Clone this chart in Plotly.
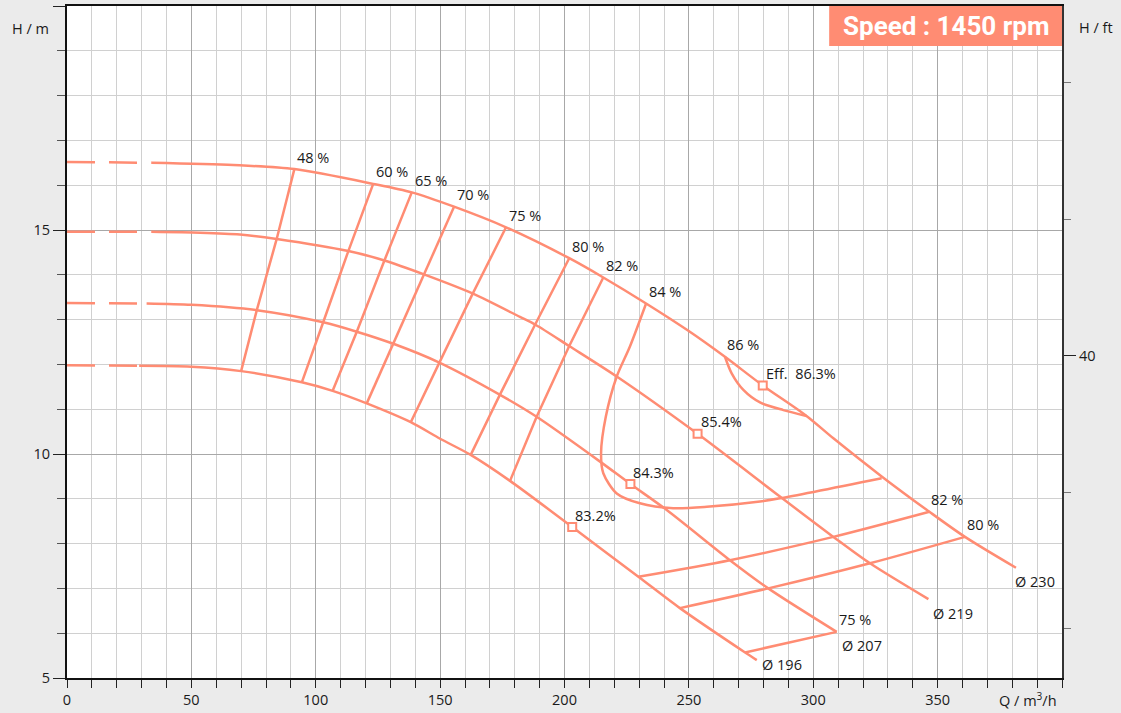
import plotly.graph_objects as go

# ---------------- data ----------------
# Impeller diameter curves: flow Q (m3/h) and head H (m)
Q230 = [0, 34, 66.9, 91.4, 123.1, 138.6, 155.6, 176.5, 201.9, 215.6, 232.8, 249.8, 264.5, 279.7, 297.3, 308.1, 327.5, 346.7, 361, 381.5]
H230 = [16.52, 16.50, 16.45, 16.36, 16.03, 15.84, 15.52, 15.06, 14.37, 13.94, 13.36, 12.75, 12.17, 11.53, 10.85, 10.35, 9.50, 8.71, 8.15, 7.46]
Q219 = [0, 34, 53.5, 69.5, 84.3, 113.1, 127.6, 143.5, 163.2, 182.1, 188.5, 201.9, 221, 253.5, 286.6, 308.1, 322.8, 346.3]
H219 = [14.96, 14.96, 14.94, 14.90, 14.80, 14.53, 14.32, 14.01, 13.58, 13.06, 12.88, 12.41, 11.73, 10.45, 9.05, 8.15, 7.56, 6.76]
Q207 = [0, 32, 50.1, 76.3, 103.0, 116.5, 131.2, 149.7, 174.1, 188.8, 214.3, 226.5, 241.1, 266.5, 281.9, 309.4]
H207 = [13.37, 13.36, 13.33, 13.21, 12.94, 12.73, 12.46, 12.04, 11.32, 10.83, 9.83, 9.33, 8.75, 7.63, 7.00, 6.03]
Q196 = [0, 29, 50, 70.0, 94.4, 106.8, 120.5, 138.2, 150, 162.3, 178.1, 203.1, 229.7, 246.4, 272.6, 277.3]
H196 = [11.98, 11.97, 11.95, 11.85, 11.60, 11.41, 11.13, 10.71, 10.34, 9.98, 9.40, 8.37, 7.26, 6.56, 5.57, 5.40]
DIAMETERS = ["Ø 230", "Ø 219", "Ø 207", "Ø 196"]
DASH_END_Q = [34, 34, 32, 29]          # low-flow part drawn dashed

# Best efficiency points on each diameter
BEP_Q = [279.7, 253.5, 226.5, 203.1]
BEP_H = [11.53, 10.45, 9.33, 8.37]
BEP_LABELS = ["Eff.\u00a0\u00a086.3%", "85.4%", "84.3%", "83.2%"]

# Iso-efficiency lines, left branch (Ø230 -> Ø219 -> Ø207 -> Ø196)
ISO_LEFT_LABELS = ["48 %", "60 %", "65 %", "70 %", "75 %", "80 %", "82 %"]
ISO_LEFT_Q = [
    [91.4, 84.3, 76.3, 70.0],
    [123.1, 113.1, 103.0, 94.4],
    [138.6, 127.6, 116.5, 106.8],
    [155.6, 143.5, 131.2, 120.5],
    [176.5, 163.1, 149.7, 138.2],
    [201.9, 188.1, 174.1, 162.3],
    [215.6, 201.9, 188.8, 178.1],
]
ISO_LEFT_H = [
    [16.36, 14.80, 13.21, 11.85],
    [16.03, 14.53, 12.94, 11.60],
    [15.84, 14.32, 12.73, 11.41],
    [15.52, 14.01, 12.46, 11.13],
    [15.06, 13.58, 12.04, 10.71],
    [14.37, 12.88, 11.33, 9.98],
    [13.94, 12.41, 10.83, 9.40],
]

# Iso-efficiency lines, right branch (label at first point)
ISO_RIGHT_LABELS = ["82 %", "80 %", "75 %"]
ISO_RIGHT_Q = [
    [346.7, 308.1, 266.5, 229.7],
    [361.0, 322.8, 281.9, 246.4],
    [309.4, 272.6],
]
ISO_RIGHT_H = [
    [8.71, 8.15, 7.63, 7.26],
    [8.15, 7.56, 7.00, 6.56],
    [6.03, 5.57],
]

# 84 % closed contour and 86 % contour
ISO84_Q = [232.8, 226.3, 221.0, 216.6, 214.7, 215.6, 221.0, 230.3, 243.7, 257.2, 278.6, 286.6, 327.5]
ISO84_H = [13.36, 12.40, 11.73, 10.83, 10.02, 9.57, 9.12, 8.90, 8.79, 8.82, 8.94, 9.01, 9.46]
ISO86_Q = [264.5, 267.2, 271.9, 278.6, 288.0, 297.3]
ISO86_H = [12.17, 11.80, 11.43, 11.15, 10.98, 10.85]

X_TICKS = [0, 50, 100, 150, 200, 250, 300, 350]
Y_TICKS = [5, 10, 15, 20]
Y_TICK_TEXT = ["5", "10", "15", ""]
FT_TICKS = [40]
FT_MINOR = [20, 30, 50, 60]
SPEED_TEXT = "Speed : 1450 rpm"

# ---------------- styling ----------------
C = "#ff8c73"
LW = 2.5
TXT = "#1a1a1a"
FONT = "Open Sans"
FS = 14.5
M_TO_FT = 1 / 0.3048

fig = go.Figure()

def line(x, y, shape="linear", dash="solid"):
    fig.add_trace(go.Scatter(x=x, y=y, mode="lines", hoverinfo="skip",
                             line=dict(color=C, width=LW, shape=shape, dash=dash,
                                       smoothing=0.8 if shape == "spline" else None),
                             showlegend=False))

curves = [(Q230, H230), (Q219, H219), (Q207, H207), (Q196, H196)]
for (q, h), qd in zip(curves, DASH_END_Q):
    dq = [a for a in q if a <= qd]
    dh = h[:len(dq)]
    line(dq, dh, dash="28px,14px")
    i0 = len(dq) - 1
    line(q[i0:], h[i0:], shape="spline")

for q, h in zip(ISO_LEFT_Q, ISO_LEFT_H):
    line(q, h)
for q, h in zip(ISO_RIGHT_Q, ISO_RIGHT_H):
    line(q, h, shape="spline")
line(ISO84_Q, ISO84_H, shape="spline")
line(ISO86_Q, ISO86_H, shape="spline")

fig.add_trace(go.Scatter(x=BEP_Q, y=BEP_H, mode="markers", hoverinfo="skip", showlegend=False,
                         marker=dict(symbol="square", size=8, color="white",
                                     line=dict(color=C, width=2))))

ann = []
def label(x, y, text, xs=0, ys=12):
    ann.append(dict(x=x, y=y, text=text, showarrow=False, xanchor="left", yanchor="middle",
                    xshift=xs, yshift=ys, font=dict(family=FONT, size=FS, color=TXT)))

for lab, q, h in zip(ISO_LEFT_LABELS, ISO_LEFT_Q, ISO_LEFT_H):
    label(q[0], h[0], lab, xs=1)
label(ISO84_Q[0], ISO84_H[0], "84 %", xs=1)
label(ISO86_Q[0], ISO86_H[0], "86 %", xs=0)
for lab, q, h in zip(ISO_RIGHT_LABELS, ISO_RIGHT_Q, ISO_RIGHT_H):
    label(q[0], h[0], lab, xs=0)
for lab, q, h in zip(BEP_LABELS, BEP_Q, BEP_H):
    label(q, h, lab, xs=1)
for k, ((q, h), lab) in enumerate(zip(curves, DIAMETERS)):
    if k == 3:
        label(q[-1], h[-1], lab, xs=3, ys=-4)
    else:
        label(q[-1], h[-1], lab, xs=-3 if k == 0 else 3, ys=-14)

# axis titles
ann.append(dict(xref="paper", yref="paper", x=-0.037, y=1, xanchor="center", yanchor="top", yshift=-11,
                text="H / m", showarrow=False, font=dict(family=FONT, size=FS, color=TXT)))
ann.append(dict(xref="paper", yref="paper", x=1.0337, y=1, xanchor="center", yanchor="top", yshift=-10,
                text="H / ft", showarrow=False, font=dict(family=FONT, size=FS, color=TXT)))
ann.append(dict(xref="paper", yref="paper", x=0.966, y=0, xanchor="center", yanchor="top", yshift=-9,
                text="Q / m<sup>3</sup>/h", showarrow=False, font=dict(family=FONT, size=FS, color=TXT)))
# speed badge
ann.append(dict(xref="paper", yref="paper", x=0.883, y=0.9705, xanchor="center", yanchor="middle",
                text="<b>" + SPEED_TEXT + "</b>", showarrow=False,
                font=dict(family="Roboto", size=26, color="white")))

shapes = [dict(type="rect", xref="paper", yref="paper", x0=0.766, x1=1.0, y0=0.9405, y1=1.0,
               fillcolor=C, line=dict(width=0), layer="above")]

fig.update_layout(
    width=1121, height=713,
    margin=dict(l=67, r=59, t=6, b=35, autoexpand=False),
    paper_bgcolor="#ebebeb", plot_bgcolor="white",
    annotations=ann, shapes=shapes,
    xaxis=dict(range=[0, 400], tickvals=X_TICKS, ticks="outside", ticklen=8, tickcolor="#222",
               showline=True, linecolor="#111", linewidth=2, mirror=True,
               showgrid=True, gridcolor="#a8a8a8", gridwidth=1, zeroline=False,
               tickfont=dict(family=FONT, size=FS, color=TXT),
               minor=dict(dtick=10, tick0=0, ticks="outside", ticklen=8, tickcolor="#222",
                          showgrid=True, gridcolor="#d0d0d0", gridwidth=1)),
    yaxis=dict(range=[5, 20], tickvals=Y_TICKS, ticktext=Y_TICK_TEXT, ticks="outside", ticklen=12,
               tickcolor="#222", showline=True, linecolor="#111", linewidth=2, mirror=True,
               showgrid=True, gridcolor="#a8a8a8", gridwidth=1, zeroline=False,
               tickfont=dict(family=FONT, size=FS, color=TXT),
               minor=dict(dtick=1, tick0=5, ticks="outside", ticklen=8, tickcolor="#555",
                          showgrid=True, gridcolor="#d0d0d0", gridwidth=1)),
    yaxis2=dict(range=[5 * M_TO_FT, 20 * M_TO_FT], overlaying="y", side="right",
                tickvals=FT_TICKS, ticks="outside", ticklen=12, tickcolor="#222",
                showline=True, linecolor="#333", linewidth=2, showgrid=False, zeroline=False,
                tickfont=dict(family=FONT, size=FS, color=TXT),
                minor=dict(tickvals=FT_MINOR, ticks="outside", ticklen=7, tickcolor="#777",
                           showgrid=False)),
)
# invisible trace to activate the right axis
fig.add_trace(go.Scatter(x=[None], y=[None], yaxis="y2", showlegend=False, hoverinfo="skip"))

fig.write_html("out.html", config={"displayModeBar": False},
               post_script="document.body.style.margin='0';")
